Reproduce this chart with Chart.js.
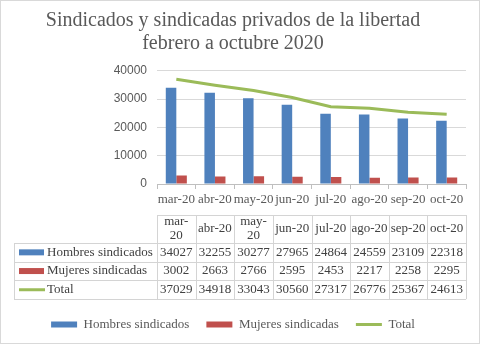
<!DOCTYPE html>
<html>
<head>
<meta charset="utf-8">
<title>Sindicados y sindicadas privados de la libertad</title>
<script src="https://cdn.jsdelivr.net/npm/chart.js@4.4.0/dist/chart.umd.min.js"></script>
<style>
body{margin:0;background:#fff;}
.chart-container{width:480px;height:344px;position:relative;}
</style>
</head>
<body>
<div class="chart-container">
  <canvas id="chart" width="480" height="344"></canvas>
</div>
<script>
// datos mensuales
var meses = ["mar-20","abr-20","may-20","jun-20","jul-20","ago-20","sep-20","oct-20"];
var hombres = [34027,32255,30277,27965,24864,24559,23109,22318];
var mujeres = [3002,2663,2766,2595,2453,2217,2258,2295];
var total = [37029,34918,33043,30560,27317,26776,25367,24613];
var ejeY = [0,10000,20000,30000,40000];

var azul = "#4f81bd", rojo = "#c0504d", verde = "#9bbb59";
var gris = "#595959";
var serif = "'Liberation Serif', serif";

// tabla de datos debajo del eje x, columnas alineadas con las categorias
var tablaDatos = {
  id: "tablaDatos",
  afterDraw: function(chart){
    var ctx = chart.ctx;
    var x = chart.scales.x;
    var n = meses.length;
    var ancho = (x.right - x.left) / n;
    var izq = 14;
    var arriba = 215, altoEnc = 28, altoFila = 18.7;
    var filas = [
      {nombre: "Hombres sindicados", datos: hombres, color: azul, tipo: "barra"},
      {nombre: "Mujeres sindicadas", datos: mujeres, color: rojo, tipo: "barra"},
      {nombre: "Total", datos: total, color: verde, tipo: "linea"}
    ];
    var fin = arriba + altoEnc + altoFila * filas.length;

    ctx.save();
    // borde exterior
    ctx.strokeStyle = "#d9d9d9";
    ctx.lineWidth = 1;
    ctx.strokeRect(0.5, 0.5, chart.width - 1, chart.height - 1);

    // lineas de la tabla
    ctx.strokeStyle = "#d4d4d4";
    ctx.beginPath();
    ctx.moveTo(x.left, arriba + 0.5);
    ctx.lineTo(x.right, arriba + 0.5);
    for (var f = 0; f <= filas.length; f++) {
      var yy = Math.round(arriba + altoEnc + altoFila * f) + 0.5;
      ctx.moveTo(izq, yy);
      ctx.lineTo(x.right, yy);
    }
    ctx.moveTo(izq + 0.5, arriba + altoEnc);
    ctx.lineTo(izq + 0.5, fin);
    for (var c = 0; c <= n; c++) {
      var xx = Math.round(x.left + ancho * c) + 0.5;
      ctx.moveTo(xx, arriba);
      ctx.lineTo(xx, fin);
    }
    ctx.stroke();

    ctx.font = "13px " + serif;
    ctx.fillStyle = "#404040";
    ctx.textAlign = "center";
    ctx.textBaseline = "middle";

    // encabezados: se parten en el guion si no caben
    for (var i = 0; i < n; i++) {
      var cx = x.getPixelForValue(i);
      var et = meses[i];
      if (ctx.measureText(et).width > ancho - 2) {
        var p = et.indexOf("-") + 1;
        ctx.fillText(et.slice(0, p), cx, arriba + altoEnc / 2 - 7);
        ctx.fillText(et.slice(p), cx, arriba + altoEnc / 2 + 7);
      } else {
        ctx.fillText(et, cx, arriba + altoEnc / 2);
      }
    }

    filas.forEach(function(fila, k){
      var cy = arriba + altoEnc + altoFila * k + altoFila / 2;
      // clave de la serie
      if (fila.tipo === "barra") {
        ctx.fillStyle = fila.color;
        ctx.fillRect(19, cy - 3, 25, 6);
      } else {
        ctx.strokeStyle = fila.color;
        ctx.lineWidth = 3;
        ctx.beginPath();
        ctx.moveTo(19, cy);
        ctx.lineTo(45, cy);
        ctx.stroke();
      }
      ctx.fillStyle = "#404040";
      ctx.textAlign = "left";
      ctx.fillText(fila.nombre, 47, cy);
      ctx.textAlign = "center";
      for (var i = 0; i < n; i++) {
        ctx.fillText(String(fila.datos[i]), x.getPixelForValue(i), cy);
      }
    });
    ctx.restore();
  }
};

var ctx = document.getElementById("chart");

var chart = new Chart(ctx, {
  type: "bar",
  data: {
    labels: meses,
    datasets: [
      {
        label: "Hombres sindicados",
        data: hombres,
        backgroundColor: azul,
        pointStyle: "rect",
        categoryPercentage: 0.545,
        barPercentage: 1
      },
      {
        label: "Mujeres sindicadas",
        data: mujeres,
        backgroundColor: rojo,
        pointStyle: "rect",
        categoryPercentage: 0.545,
        barPercentage: 1
      },
      {
        type: "line",
        label: "Total",
        data: total,
        borderColor: verde,
        backgroundColor: verde,
        borderWidth: 3,
        pointRadius: 0,
        pointStyle: "line",
        tension: 0,
        fill: false
      }
    ]
  },
  plugins: [tablaDatos],
  options: {
    responsive: false,
    animation: false,
    devicePixelRatio: 1,
    layout: {padding: {left: 0, right: 14, top: 0, bottom: 3}},
    scales: {
      y: {
        min: ejeY[0],
        max: ejeY[ejeY.length - 1],
        ticks: {
          stepSize: ejeY[1] - ejeY[0],
          color: gris,
          padding: 10,
          font: {family: "'Liberation Sans', sans-serif", size: 12},
          callback: function(v){ return String(v); }
        },
        grid: {color: "#d9d9d9", drawTicks: false},
        border: {display: false},
        afterFit: function(s){ s.width = 157; }
      },
      x: {
        ticks: {
          color: gris,
          padding: 3,
          maxRotation: 0,
          autoSkip: false,
          font: {family: serif, size: 13}
        },
        grid: {
          offset: true,
          drawOnChartArea: false,
          drawTicks: true,
          tickLength: 5,
          color: "#bfbfbf"
        },
        border: {display: true, color: "#bfbfbf"},
        afterFit: function(s){ s.height = 117; }
      }
    },
    plugins: {
      title: {
        display: true,
        text: ["Sindicados y sindicadas privados de la libertad", "febrero a octubre 2020"],
        color: gris,
        font: {family: serif, size: 20, weight: "normal", lineHeight: 1.12},
        padding: {top: 10, bottom: 16}
      },
      legend: {
        position: "bottom",
        labels: {
          usePointStyle: true,
          pointStyleWidth: 26,
          boxHeight: 6,
          padding: 17,
          color: gris,
          font: {family: serif, size: 13}
        }
      },
      tooltip: {enabled: false}
    }
  }
});
</script>
</body>
</html>
